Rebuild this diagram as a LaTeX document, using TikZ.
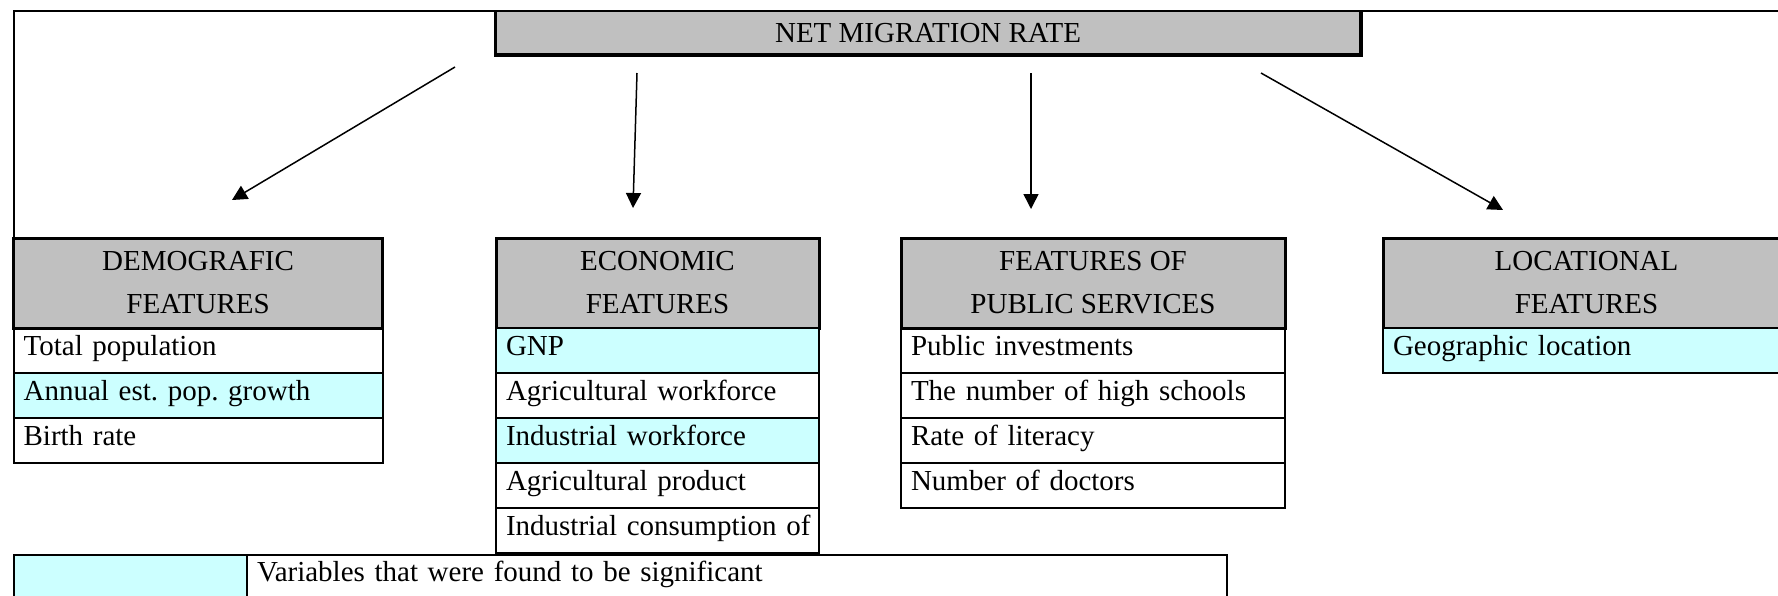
\documentclass[tikz,border=0pt]{standalone}
\usepackage{fontspec}
\setmainfont{Liberation Serif}
\usepackage{tikz}
\usetikzlibrary{arrows.meta, positioning}
\definecolor{xamnhat}{RGB}{192,192,192}
\definecolor{xanhnhat}{RGB}{204,255,255}
\newcommand{\cochu}{\fontsize{14.5pt}{21.5pt}\selectfont\frenchspacing}
\tikzset{
  tieude/.style={draw, line width=1.5pt, fill=xamnhat, anchor=north west, minimum height=45pt, inner sep=0pt, outer sep=0pt, align=center, font=\cochu},
  dong/.style={draw, line width=1pt, anchor=north west, minimum height=22.5pt, inner xsep=5pt, inner ysep=0pt, outer sep=0pt, align=left, text height=0.7em, text depth=0.22em, font=\cochu},
  mui/.style={-{Triangle[length=7.5pt,width=7.5pt]}, line width=0.75pt}
}
\begin{document}
\begin{tikzpicture}[x=0.5pt, y=-0.5pt]

            % Khung hình
            \useasboundingbox (0,0) rectangle (1778,595);
            \clip (0,0) rectangle (1778,595);

            % Ô tiêu đề chính
            \node[fill=xamnhat, anchor=north west, minimum width=432.6pt, minimum height=22pt, inner sep=0pt, outer sep=0pt, font=\cochu] (net) at (495.5,11) {NET MIGRATION RATE};

            % Các cột đặc trưng
            \node[tieude, minimum width=184.5pt] (demo) at (13.6,238) {DEMOGRAFIC\\FEATURES}; % Cột 1
            \node[dong, text width=174.5pt] (d1) at (demo.south west) {Total population};
            \node[dong, text width=174.5pt, fill=xanhnhat] (d2) at (d1.south west) {Annual est. pop. growth};
            \node[dong, text width=174.5pt] (d3) at (d2.south west) {Birth rate};

            \node[tieude, minimum width=161.5pt] (eco) at (496,238) {ECONOMIC\\FEATURES}; % Cột 2
            \node[dong, text width=151.5pt, fill=xanhnhat] (e1) at (eco.south west) {GNP};
            \node[dong, text width=151.5pt] (e2) at (e1.south west) {Agricultural workforce};
            \node[dong, text width=151.5pt, fill=xanhnhat] (e3) at (e2.south west) {Industrial workforce};
            \node[dong, text width=151.5pt] (e4) at (e3.south west) {Agricultural product};
            \node[dong, text width=151.5pt] (e5) at (e4.south west) {\mbox{Industrial consumption of}};

            \node[tieude, minimum width=192pt] (pub) at (901,238) {FEATURES OF\\PUBLIC SERVICES}; % Cột 3
            \node[dong, text width=182pt] (p1) at (pub.south west) {Public investments};
            \node[dong, text width=182pt] (p2) at (p1.south west) {The number of high schools};
            \node[dong, text width=182pt] (p3) at (p2.south west) {Rate of literacy};
            \node[dong, text width=182pt] (p4) at (p3.south west) {Number of doctors};

            \node[tieude, minimum width=203.5pt] (loc) at (1383,238) {LOCATIONAL\\FEATURES}; % Cột 4
            \node[dong, text width=193.5pt, fill=xanhnhat] (l1) at (loc.south west) {Geographic location};

            % Viền khung ngoài và viền đậm ô chính
            \draw[line width=1pt] (demo.north west) |- (1790,11);
            \draw[line width=1.8pt] (net.north west) -- (net.south west) -- (net.south east) -- (net.north east);

            % Chú thích
            \node[dong, text width=106.7pt, fill=xanhnhat] (chu) at (13.6,554.5) {};
            \node[dong, text width=480pt] (chuthich) at (chu.north east) {Variables that were found to be significant};

            % Các mũi tên
            \coordinate (tu1) at (455,67);   \coordinate (den1) at (232,200);
            \coordinate (tu2) at (637,73);   \coordinate (den2) at (633,208);
            \coordinate (tu3) at (1031,73);  \coordinate (den3) at (1031,209);
            \coordinate (tu4) at (1261,73);  \coordinate (den4) at (1503,210);
            \draw[mui] (tu1) -- (den1);
            \draw[mui] (tu2) -- (den2);
            \draw[mui] (tu3) -- (den3);
            \draw[mui] (tu4) -- (den4);

            \end{tikzpicture}
\end{document}
